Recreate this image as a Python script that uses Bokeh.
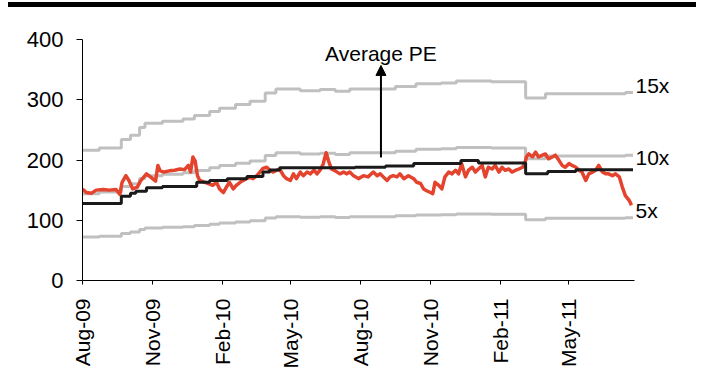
import pandas as pd
from bokeh.plotting import figure
from bokeh.layouts import column
from bokeh.models import (ColumnDataSource, FixedTicker, DatetimeTickFormatter, Range1d,
                          Arrow, NormalHead, Label, Div)
from bokeh.embed import file_html
from bokeh.resources import INLINE

FONT = "Liberation Sans"

# ---- data ----
red_dates = [
    "2009-08-01", "2009-08-06", "2009-08-13", "2009-08-19", "2009-08-28", "2009-09-05", "2009-09-14", "2009-09-19",
    "2009-09-22", "2009-09-27", "2009-10-01", "2009-10-06", "2009-10-12", "2009-10-16", "2009-10-24", "2009-10-30",
    "2009-11-05", "2009-11-08", "2009-11-11", "2009-11-16", "2009-11-23", "2009-11-30", "2009-12-07", "2009-12-13",
    "2009-12-18", "2009-12-21", "2009-12-24", "2009-12-27", "2009-12-30", "2010-01-02", "2010-01-09", "2010-01-15",
    "2010-01-19", "2010-01-24", "2010-01-28", "2010-02-02", "2010-02-06", "2010-02-10", "2010-02-15", "2010-02-19",
    "2010-02-24", "2010-02-28", "2010-03-04", "2010-03-09", "2010-03-13", "2010-03-18", "2010-03-22", "2010-03-26",
    "2010-03-31", "2010-04-04", "2010-04-08", "2010-04-13", "2010-04-17", "2010-04-22", "2010-04-26", "2010-05-01",
    "2010-05-05", "2010-05-09", "2010-05-14", "2010-05-18", "2010-05-23", "2010-05-27", "2010-06-01", "2010-06-05",
    "2010-06-09", "2010-06-13", "2010-06-17", "2010-06-20", "2010-06-24", "2010-06-29", "2010-07-05", "2010-07-10",
    "2010-07-14", "2010-07-18", "2010-07-23", "2010-07-30", "2010-08-01", "2010-08-05", "2010-08-11", "2010-08-18",
    "2010-08-23", "2010-08-27", "2010-08-31", "2010-09-05", "2010-09-09", "2010-09-13", "2010-09-18", "2010-09-22",
    "2010-09-27", "2010-10-03", "2010-10-10", "2010-10-14", "2010-10-19", "2010-10-23", "2010-10-27", "2010-11-01",
    "2010-11-04", "2010-11-07", "2010-11-12", "2010-11-16", "2010-11-20", "2010-11-25", "2010-11-29", "2010-12-04",
    "2010-12-08", "2010-12-12", "2010-12-17", "2010-12-21", "2010-12-26", "2010-12-30", "2011-01-03", "2011-01-08",
    "2011-01-12", "2011-01-16", "2011-01-21", "2011-01-25", "2011-01-30", "2011-02-03", "2011-02-07", "2011-02-12",
    "2011-02-16", "2011-02-21", "2011-02-25", "2011-03-02", "2011-03-05", "2011-03-07", "2011-03-10", "2011-03-15",
    "2011-03-19", "2011-03-23", "2011-03-28", "2011-04-01", "2011-04-05", "2011-04-10", "2011-04-14", "2011-04-19",
    "2011-04-23", "2011-04-27", "2011-05-02", "2011-05-06", "2011-05-11", "2011-05-15", "2011-05-19", "2011-05-24",
    "2011-05-28", "2011-06-02", "2011-06-06", "2011-06-10", "2011-06-15", "2011-06-19", "2011-06-23", "2011-06-28",
    "2011-07-02", "2011-07-07", "2011-07-11", "2011-07-15", "2011-07-20", "2011-07-23",
]
red_values = [
    152, 146, 145, 150, 151, 150, 151, 143,
    163, 174, 166, 152, 155, 165, 177, 171,
    165, 191, 182, 180, 182, 183, 185, 184,
    191, 180, 205, 198, 174, 166, 163, 160,
    158, 163, 152, 146, 155, 163, 152, 158,
    163, 166, 169, 171, 169, 174, 180, 186,
    188, 183, 180, 183, 185, 174, 169, 166,
    177, 169, 180, 174, 180, 177, 183, 177,
    183, 193, 212, 199, 185, 182, 177, 180,
    177, 180, 174, 169, 171, 174, 172, 180,
    174, 177, 172, 166, 172, 174, 172, 177,
    169, 174, 169, 163, 161, 152, 149, 146,
    144, 163, 158, 152, 172, 180, 177, 183,
    177, 194, 172, 183, 188, 180, 185, 191,
    172, 188, 185, 191, 180, 188, 183, 185,
    180, 183, 185, 188, 194, 205, 210, 205,
    213, 205, 208, 210, 202, 205, 208, 199,
    191, 188, 194, 191, 188, 183, 180, 166,
    177, 180, 183, 191, 180, 177, 177, 174,
    177, 172, 155, 141, 133, 125,
]

band_dates = [
    "2009-08-01", "2009-08-23", "2009-09-21", "2009-10-03", "2009-10-15", "2009-10-22", "2009-11-14",
    "2009-12-11", "2009-12-26", "2010-01-15", "2010-01-28", "2010-02-18", "2010-03-09", "2010-03-29",
    "2010-04-12", "2010-05-14", "2010-06-09", "2010-06-29", "2010-07-18", "2010-09-16", "2010-10-13",
    "2010-11-15", "2010-12-05", "2011-01-20", "2011-03-06", "2011-04-01", "2011-07-15", "2011-07-25",
]
pe15_values = [216, 220, 234, 241, 254, 261, 264.5, 268, 274, 280.5, 286, 292, 297.5, 311,
               318, 315, 317, 314, 318, 322, 326.5, 328, 331, 330, 303, 310, 312, 312]
pe10_values = [144, 146.7, 156, 160.7, 169.3, 174, 176.3, 178.7, 182.7, 187, 190.7, 194.7, 198.3, 207.3,
               212, 210, 211.3, 209.3, 212, 214.7, 217.7, 218.7, 220.7, 220, 202, 206.7, 208, 208]
pe5_values = [72, 73.3, 78, 80.3, 84.7, 87, 88.2, 89.3, 91.3, 93.5, 95.3, 97.3, 99.2, 103.7,
              106, 105, 105.7, 104.7, 106, 107.3, 108.8, 109.3, 110.3, 110, 101, 103.3, 104, 104]

avg_dates = [
    "2009-08-01", "2009-09-21", "2009-10-03", "2009-10-10", "2009-10-24", "2009-11-14", "2009-12-29",
    "2010-01-15", "2010-02-07", "2010-03-05", "2010-03-26", "2010-04-04", "2010-04-17", "2010-07-25",
    "2010-09-03", "2010-10-10", "2010-12-11", "2011-01-03", "2011-03-06", "2011-04-04", "2011-05-11",
    "2011-07-25",
]
avg_values = [128, 140, 145, 148, 154, 156, 163, 166, 169, 172.6, 180, 183.6, 187, 188,
              190, 194, 199, 195, 177, 181, 184, 184]

tick_dates = ["2009-08-01", "2009-11-01", "2010-02-01", "2010-05-01",
              "2010-08-01", "2010-11-01", "2011-02-01", "2011-05-01"]
tick_labels = ["Aug-09", "Nov-09", "Feb-10", "May-10", "Aug-10", "Nov-10", "Feb-11", "May-11"]
y_ticks = [0, 100, 200, 300, 400]

band_labels = ["15x", "10x", "5x"]
band_label_values = [324, 204, 116]

arrow_date = "2010-08-28"
arrow_from, arrow_to = 204, 357
annotation_text = "Average PE"
annotation_value = 377

x_start, x_axis_end = "2009-08-01", "2011-07-27"
x_view_end = "2011-10-23"   # room on the right for the multiple labels


def ms(d):
    return pd.Timestamp(d).value / 1e6


fig = figure(width=701, height=384, x_axis_type="datetime", output_backend="svg",
             toolbar_location=None,
             x_range=Range1d(ms(x_start), ms(x_view_end)), y_range=Range1d(0, 400),
             min_border_left=82, min_border_right=0, min_border_top=32, min_border_bottom=111)
fig.background_fill_color = "white"
fig.border_fill_color = "white"
fig.outline_line_color = None
fig.xgrid.visible = False
fig.ygrid.visible = False

band_src = ColumnDataSource(dict(date=pd.to_datetime(band_dates), v15=pe15_values,
                                 v10=pe10_values, v5=pe5_values))
for col in ["v15", "v10", "v5"]:
    fig.step(x="date", y=col, source=band_src, mode="after", line_color="#C0C0C0", line_width=3)

red_src = ColumnDataSource(dict(date=pd.to_datetime(red_dates), v=red_values))
fig.line(x="date", y="v", source=red_src, line_color="#E4432D", line_width=3.5, line_join="round")

avg_src = ColumnDataSource(dict(date=pd.to_datetime(avg_dates), v=avg_values))
fig.step(x="date", y="v", source=avg_src, mode="after", line_color="#1A1A1A", line_width=3)

fig.add_layout(Arrow(end=NormalHead(size=10, fill_color="black", line_color="black"),
                     x_start=ms(arrow_date), y_start=arrow_from, x_end=ms(arrow_date), y_end=arrow_to,
                     line_color="black", line_width=2))
fig.add_layout(Label(x=ms(arrow_date), y=annotation_value, text=annotation_text, text_align="center",
                     text_baseline="alphabetic", text_font=FONT, text_font_size="21px",
                     text_color="black"))
for lab, val in zip(band_labels, band_label_values):
    fig.add_layout(Label(x=ms(x_axis_end), y=val, x_offset=1, text=lab, text_align="left",
                         text_baseline="middle", text_font=FONT, text_font_size="21px",
                         text_color="black"))

xa = fig.xaxis[0]
xa.bounds = (ms(x_start), ms(x_axis_end))
xa.ticker = FixedTicker(ticks=[ms(d) for d in tick_dates])
xa.formatter = DatetimeTickFormatter(days="%b-%y", months="%b-%y", years="%b-%y")
xa.major_label_overrides = {ms(d): lab for d, lab in zip(tick_dates, tick_labels)}
xa.major_label_orientation = 3.14159265 / 2
xa.major_tick_out = 4
xa.major_tick_in = 0
xa.minor_tick_line_color = None
xa.major_label_standoff = 14
xa.major_label_text_font = FONT
xa.major_label_text_font_size = "21px"
xa.major_label_text_color = "black"
xa.axis_line_color = "black"
xa.major_tick_line_color = "black"

ya = fig.yaxis[0]
ya.ticker = FixedTicker(ticks=y_ticks)
ya.major_tick_out = 6
ya.major_tick_in = 0
ya.minor_tick_line_color = None
ya.major_label_standoff = 13
ya.major_label_text_font = FONT
ya.major_label_text_font_size = "22px"
ya.major_label_text_color = "black"
ya.axis_line_color = "black"
ya.major_tick_line_color = "black"

top_rule = Div(width=688, height=5, margin=(2, 0, 0, 8), styles={"background-color": "black"})
page = column(top_rule, fig, spacing=0)

open("out.html", "w").write(file_html(page, INLINE))
